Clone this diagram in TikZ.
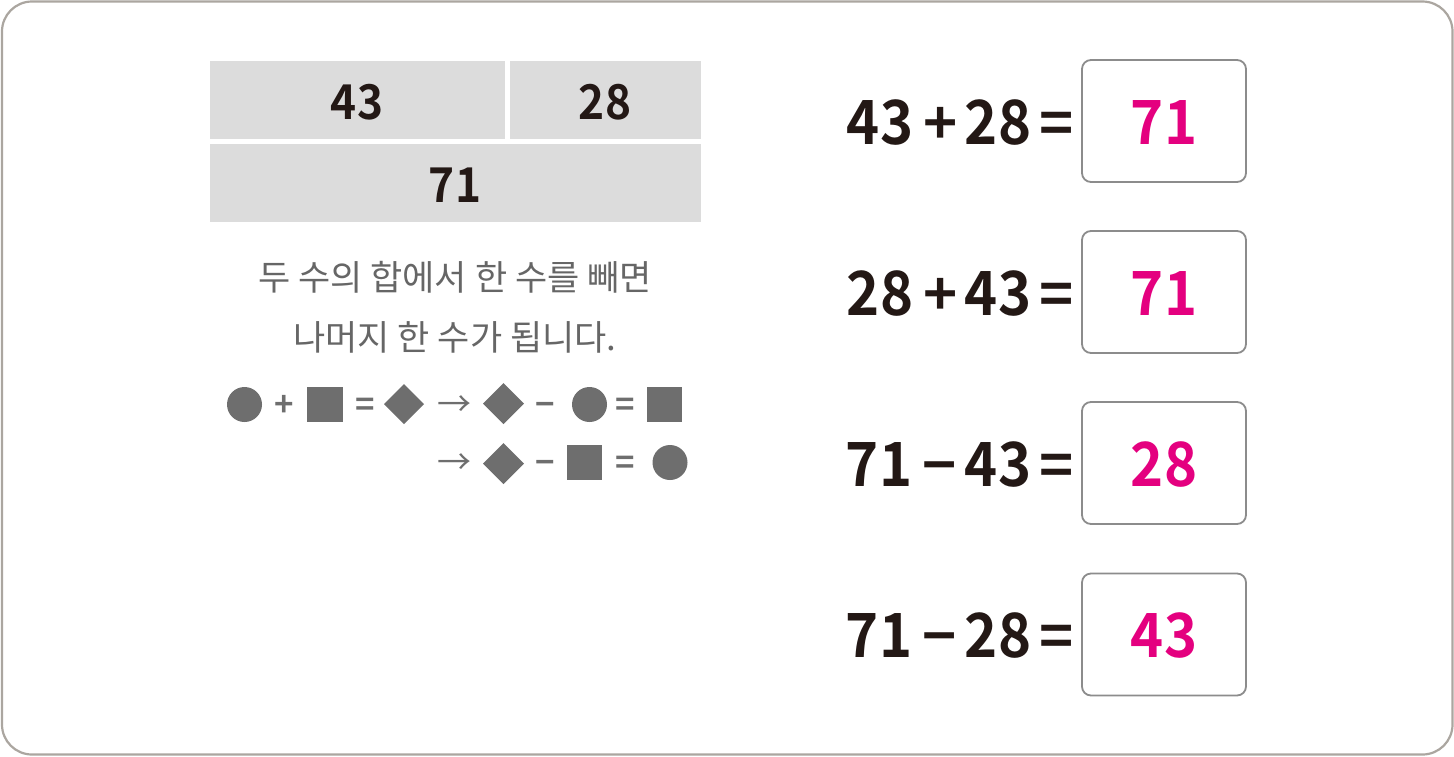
\documentclass[tikz,border=0pt]{standalone}
\usepackage{fontspec}
\setmainfont{Noto Sans CJK KR}
\newfontfamily\kr{Noto Sans CJK KR}
\newfontfamily\krb{Noto Sans CJK KR Bold}
\newfontfamily\krbn[FakeStretch=0.92]{Noto Sans CJK KR Bold}
\definecolor{framec}{HTML}{ABA6A0}
\definecolor{barfill}{HTML}{DCDCDC}
\definecolor{ink}{HTML}{231815}
\definecolor{txtgray}{HTML}{666666}
\definecolor{symgray}{HTML}{6E6E6E}
\definecolor{boxline}{HTML}{8C8C8C}
\definecolor{mag}{HTML}{E4007F}
\tikzset{
  bar/.style={fill=barfill, draw=none},
  barnum/.style={font=\krbn\fontsize{48}{48}\selectfont, text=ink, anchor=base, inner sep=0pt},
  eqn/.style={font=\krbn\fontsize{61}{61}\selectfont, text=ink, anchor=base, inner sep=0pt},
  eqop/.style={font=\krb\fontsize{58}{58}\selectfont, text=ink, anchor=base, inner sep=0pt},
  ansbox/.style={draw=boxline, line width=1.8pt, rounded corners=9pt, fill=white},
  ans/.style={font=\krbn\fontsize{61}{61}\selectfont, text=mag, anchor=base, inner sep=0pt},
  krtext/.style={font=\kr\fontsize{35}{35}\selectfont, text=txtgray, anchor=base, inner sep=0pt},
  sym/.style={fill=symgray, draw=none},
  op/.style={font=\krb\fontsize{33}{33}\selectfont, text=symgray, anchor=base, inner sep=0pt},
  arrowsym/.style={font=\kr\fontsize{34}{34}\selectfont, text=symgray, anchor=base, inner sep=0pt},
}
\begin{document}
\begin{tikzpicture}[x=1pt, y=-1pt]
\useasboundingbox (0,0) rectangle (1454,756);
\draw[framec, line width=2.2pt, rounded corners=30pt, fill=white] (2,1.5) rectangle (1452.5,754.5);

% bar model
\fill[bar] (210,61) rectangle (505,139);
\fill[bar] (510,61) rectangle (701,139);
\fill[bar] (210,144) rectangle (701,222);
\node[barnum] (b43) at (357,119) {43};
\node[barnum] (b28) at (605,119) {28};
\node[barnum] (b71) at (455,202) {71};

% korean text
\node[krtext] (l1) at (455,290) {두 수의 합에서 한 수를 빼면};
\node[krtext] (l2) at (455,350) {나머지 한 수가 됩니다.};

% symbol row 1
\fill[sym] (244.5,404.5) circle (17.5);
\node[op] (p1) at (284,416) {+};
\fill[sym] (307,387) rectangle (343,422);
\node[op] (e1) at (365,416) {=};
\fill[sym] (404,384) -- (424,404) -- (404,424) -- (384,404) -- cycle;
\node[arrowsym] (a1) at (454,416) {→};
\fill[sym] (503.5,383) -- (524,403.5) -- (503.5,424) -- (483,403.5) -- cycle;
\node[op] (m1) at (545,416) {−};
\fill[sym] (589.5,404.5) circle (17.5);
\node[op] (e2) at (625,416) {=};
\fill[sym] (647,387) rectangle (682,422);

% symbol row 2
\node[arrowsym] (a2) at (454,474) {→};
\fill[sym] (503.5,443) -- (524,463.5) -- (503.5,484) -- (483,463.5) -- cycle;
\node[op] (m2) at (545,474) {−};
\fill[sym] (567,445) rectangle (602,480);
\node[op] (e3) at (625,474) {=};
\fill[sym] (670,462.5) circle (17.5);

% equations
\node[eqn] (q1a) at (880,144) {43};
\node[eqop] (q1b) at (941,144) {+};
\node[eqn] (q1c) at (998,144) {28};
\node[eqop] (q1d) at (1057,144) {=};

\node[eqn] (q2a) at (880,315) {28};
\node[eqop] (q2b) at (941,315) {+};
\node[eqn] (q2c) at (998,315) {43};
\node[eqop] (q2d) at (1057,315) {=};

\node[eqn] (q3a) at (879,486) {71};
\node[eqop] (q3b) at (940,486) {−};
\node[eqn] (q3c) at (998,486) {43};
\node[eqop] (q3d) at (1057,486) {=};

\node[eqn] (q4a) at (879,657) {71};
\node[eqop] (q4b) at (940,657) {−};
\node[eqn] (q4c) at (998,657) {28};
\node[eqop] (q4d) at (1057,657) {=};

% answer boxes
\draw[ansbox] (1082,60) rectangle (1246,182);
\draw[ansbox] (1082,231) rectangle (1246,353);
\draw[ansbox] (1082,402) rectangle (1246,524);
\draw[ansbox] (1082,573.5) rectangle (1246,695.5);
\node[ans] (r1) at (1164,144) {71};
\node[ans] (r2) at (1164,315) {71};
\node[ans] (r3) at (1164,486) {28};
\node[ans] (r4) at (1164,657) {43};
\end{tikzpicture}
\end{document}
